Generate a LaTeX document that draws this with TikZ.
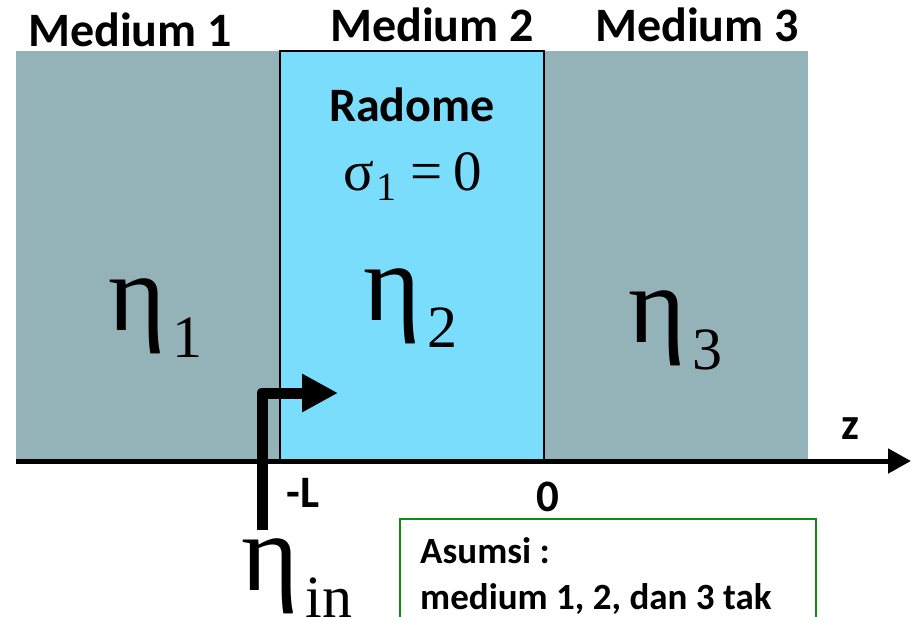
\documentclass[tikz,border=0pt]{standalone}
\usepackage{fontspec}
\setmainfont{Carlito}
\newfontfamily\tms{Liberation Serif}
\usetikzlibrary{arrows.meta}
\definecolor{medgray}{HTML}{93B3B8}
\definecolor{radblue}{HTML}{7ADDFC}
\definecolor{boxgreen}{HTML}{138A13}
\newcommand{\etasub}[1]{{\tms η\kern7pt\raisebox{-27pt}{\fontsize{60}{60}\selectfont #1}}}
\begin{document}
\begin{tikzpicture}[x=1pt,y=-1pt,
  hdr/.style={font=\fontsize{48}{48}\selectfont\bfseries, inner sep=0pt},
  lbl/.style={font=\fontsize{45}{45}\selectfont\bfseries, inner sep=0pt},
  bigeta/.style={font=\fontsize{110}{110}\selectfont, inner sep=0pt, anchor=base west},
  note/.style={font=\fontsize{37}{37}\selectfont\bfseries, inner sep=0pt, anchor=base west}]
\useasboundingbox (0,0) rectangle (912,616);
\clip (0,0) rectangle (912,616);
\fill[medgray] (16,51) rectangle (808,460);
\draw[fill=radblue, line width=1.2pt] (280,51) rectangle (544,460);
\coordinate (zs) at (16,461);
\coordinate (ze) at (911,461);
\draw[line width=5pt, -{Triangle[length=23pt,width=24pt]}] (zs) -- (ze);
\coordinate (a0) at (262,530);
\coordinate (a1) at (262,393);
\coordinate (a2) at (338,393);
\draw[line width=11pt, line join=round, -{Triangle[length=36pt,width=36pt]}] (a0) -- (a1) -- (a2);
\node[hdr] (m1) at (130,30) {Medium 1};
\node[hdr] (m2) at (432,25) {Medium 2};
\node[hdr] (m3) at (697,25) {Medium 3};
\node[hdr] (rad) at (412,105) {Radome};
\node[inner sep=0pt, anchor=base west, font=\fontsize{57}{57}\selectfont\tms] (sig) at (343,190) {σ\kern3pt\raisebox{-10pt}{\fontsize{40}{40}\selectfont 1}\kern14pt=\kern10pt0};
\node[bigeta] (e1) at (108,330) {\etasub{1}};
\node[bigeta] (e2) at (363,320) {\etasub{2}};
\node[bigeta] (e3) at (628,342) {\etasub{3}};
\node[bigeta] (ein) at (241,590) {\etasub{in}};
\node[lbl] (mL) at (303,493) {-L};
\node[lbl] (zero) at (548,497) {0};
\node[lbl] (zl) at (850,429) {z};
\draw[boxgreen, line width=1.5pt] (400,519) rectangle (816,640);
\node[note] (t1) at (420,563) {Asumsi :};
\node[note] (t2) at (420,609) {medium 1, 2, dan 3 tak};
\end{tikzpicture}
\end{document}
